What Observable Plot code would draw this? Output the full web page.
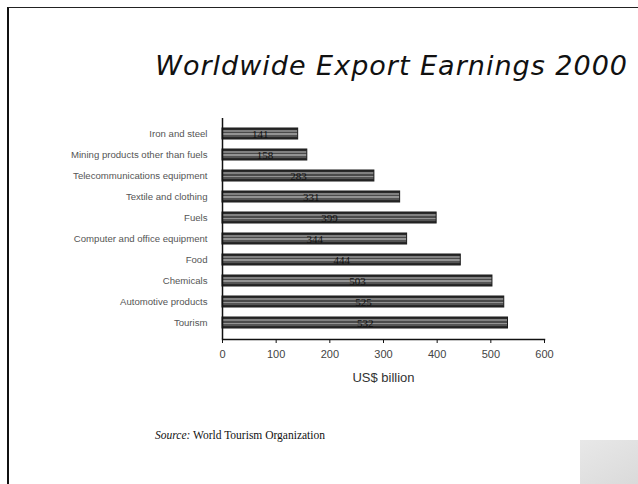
<!DOCTYPE html>
<html>
<head>
<meta charset="utf-8">
<script src="https://cdn.jsdelivr.net/npm/d3@7"></script>
<script src="https://cdn.jsdelivr.net/npm/@observablehq/plot@0.6"></script>
<style>
  html, body { margin: 0; padding: 0; background: #fff; }
  #page { position: relative; width: 638px; height: 484px; overflow: hidden; background: #fff; }
  #border { position: absolute; left: 7px; top: 7px; width: 640px; height: 490px; border-top: 1px solid #222; border-left: 2px solid #111; }
  #title { position: absolute; right: 10px; top: 52px; line-height: 1; font-family: "DejaVu Sans", Verdana, sans-serif; font-style: italic; font-size: 27px; letter-spacing: 1px; color: #111; white-space: nowrap; }
  #chart { position: absolute; left: 0; top: 100px; }
  #source { position: absolute; left: 155px; top: 429px; font-family: "Liberation Serif", "Times New Roman", serif; font-size: 11.5px; color: #111; white-space: nowrap; }
  #corner { position: absolute; left: 580px; top: 440px; width: 58px; height: 44px; background: linear-gradient(150deg, #e8e8e8 0%, #dadada 100%); }
</style>
</head>
<body>
<div id="page">
  <div id="border"></div>
  <div id="title">Worldwide Export Earnings 2000</div>
  <div id="chart"></div>
  <div id="source"><i>Source:</i> World Tourism Organization</div>
  <div id="corner"></div>
</div>
<script>
const categories = [
  "Iron and steel",
  "Mining products other than fuels",
  "Telecommunications equipment",
  "Textile and clothing",
  "Fuels",
  "Computer and office equipment",
  "Food",
  "Chemicals",
  "Automotive products",
  "Tourism"
];
const values = [141, 158, 283, 331, 399, 344, 444, 503, 525, 532];
const xTicks = [0, 100, 200, 300, 400, 500, 600];
const xLabel = "US$ billion";

const data = categories.map((c, i) => ({category: c, value: values[i]}));

const plot = Plot.plot({
  width: 560,
  height: 300,
  marginLeft: 222,
  marginRight: 16,
  marginTop: 18,
  marginBottom: 61,
  style: {fontFamily: "'Liberation Sans', Arial, sans-serif", background: "transparent"},
  x: {domain: [0, 600]},
  y: {domain: categories, paddingInner: 0.47, paddingOuter: 0.33},
  marks: [
    Plot.barX(data, {x: "value", y: "category", fill: "url(#barStripe)", stroke: "#1a1a1a", strokeWidth: 1}),
    Plot.text(data, {x: d => d.value / 2, y: "category", text: d => String(d.value), fill: "#111", fontSize: 11, fontFamily: "'Liberation Serif', 'Times New Roman', serif"}),
    Plot.ruleX([0], {stroke: "#111", strokeWidth: 1.5}),
    Plot.frame({anchor: "bottom", stroke: "#111", strokeWidth: 1.5}),
    Plot.axisY({tickSize: 0, tickPadding: 15, fontSize: 9.6, fill: "#555", label: null}),
    Plot.axisX({ticks: xTicks, tickSize: 4, tickPadding: 7, fontSize: 11, fill: "#444", stroke: "#111", label: null}),
    Plot.axisX({ticks: [], label: xLabel, labelArrow: "none", labelAnchor: "center", labelOffset: 42, fontSize: 13, fill: "#333"})
  ]
});

// striped fill definition resembling the scanned bars
const svg = d3.select(plot);
const defs = svg.insert("defs", ":first-child");
const grad = defs.append("linearGradient").attr("id", "barStripe").attr("x1", 0).attr("y1", 0).attr("x2", 0).attr("y2", 1);
[
  [0, "#2a2a2a"], [0.14, "#2a2a2a"], [0.14, "#808080"], [0.32, "#808080"],
  [0.32, "#4a4a4a"], [0.5, "#4a4a4a"], [0.5, "#939393"], [0.68, "#939393"],
  [0.68, "#555"], [0.86, "#555"], [0.86, "#2a2a2a"], [1, "#2a2a2a"]
].forEach(([o, c]) => grad.append("stop").attr("offset", o).attr("stop-color", c));
// ensure no arrow on the axis label
svg.selectAll("text").each(function() {
  const t = d3.select(this);
  if (t.text().includes(xLabel)) t.text(xLabel);
});

document.getElementById("chart").appendChild(plot);
</script>
</body>
</html>
